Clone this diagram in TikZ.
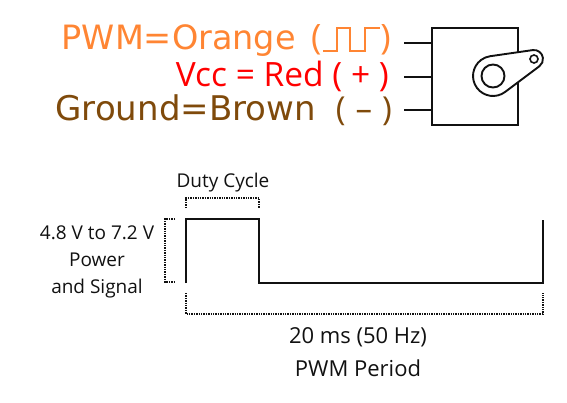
\documentclass[tikz,border=0pt]{standalone}
\usepackage{fontspec}
\setmainfont{Open Sans}
\newfontfamily\wirefont{DejaVu Sans}
\usetikzlibrary{positioning}
\definecolor{pwmorange}{HTML}{FF8533}
\definecolor{vccred}{HTML}{FF0000}
\definecolor{gndbrown}{HTML}{7F4A0B}
\definecolor{inkblack}{HTML}{111111}
\tikzset{
  wirelabel/.style={
    font=\wirefont\fontsize{33.5}{34}\selectfont,
    anchor=base east,
    inner sep=0pt,
  },
  vcclabel/.style={
    font=\fontsize{33.5}{34}\selectfont,
    anchor=base east,
    inner sep=0pt,
  },
  pin/.style={
    line width=1.9pt,
    draw=inkblack,
  },
  wave/.style={
    line width=1.9pt,
    draw=inkblack,
    line join=miter,
  },
  bracket/.style={
    line width=1.7pt,
    draw=inkblack,
    dash pattern=on 1.4pt off 1pt,
  },
  note/.style={
    font=\fontsize{19}{27}\selectfont,
    text=inkblack,
    align=center,
    inner sep=0pt,
  },
  bignote/.style={
    note,
    font=\fontsize{22}{33}\selectfont,
  },
}

\begin{document}
\begin{tikzpicture}[x=1pt,y=-1pt]
\useasboundingbox (0,0) rectangle (567,402);

% === wire colours ===

\node[wirelabel, text=pwmorange] (pwm) at (296,49) {PWM=Orange};
\node[wirelabel, text=pwmorange, font=\fontsize{35}{35}\selectfont, anchor=base west] (pwmopen) at (311,49) {(};
\node[wirelabel, text=pwmorange, font=\fontsize{35}{35}\selectfont] (pwmclose) at (391,49) {)};
\node[vcclabel, text=vccred] (vcc) at (389,86) {Vcc = Red ( + )};
\node[wirelabel, text=gndbrown, font=\wirefont\fontsize{34}{34}\selectfont] (gnd) at (316,120) {Ground=Brown};
\node[wirelabel, text=gndbrown, font=\fontsize{33}{34}\selectfont] (gndmark) at (392,120) {(\hspace{10pt}--\hspace{10pt})};

% pulse glyph
\draw[line width=1.8pt, draw=pwmorange] (323,51) -- (337,51) -- (337,28) -- (350,28) -- (350,51) -- (365,51) -- (365,28) -- (380,28);

% === servo ===

\coordinate (pwmpin) at (404,43);
\coordinate (vccpin) at (404,77);
\coordinate (gndpin) at (404,110);

\draw[pin] (432,28) rectangle (518,125);
\draw[pin] (pwmpin) -- (432,43);
\draw[pin] (vccpin) -- (432,77);
\draw[pin] (gndpin) -- (432,110);

% horn
\draw[pin, fill=white]
  (490.15,56.2) -- (532.7,50.1)
  arc[start angle=98.2, end angle=-53.2, radius=9pt] -- (505,92)
  arc[start angle=-53.2, end angle=-261.8, radius=20pt] -- cycle;
\node[circle, draw=inkblack, line width=1.9pt, minimum size=23pt, inner sep=0pt] (hub) at (493,76) {};
\node[circle, draw=inkblack, line width=1.6pt, minimum size=8pt, inner sep=0pt] (tip) at (534,59) {};

% === pulse ===

\coordinate (risefoot) at (186,283);
\coordinate (risetop) at (186,219);
\coordinate (falltop) at (259,219);
\coordinate (fallfoot) at (259,283);
\coordinate (endfoot) at (543,283);
\coordinate (endtop) at (543,220);

\draw[wave] (risefoot) -- (risetop) -- (falltop) -- (fallfoot) -- (endfoot) -- (endtop);

% === brackets ===

\draw[bracket] (186,208) -- (186,198) -- (259,198) -- (259,208);
\draw[bracket] (175,219) -- (165,219) -- (165,282) -- (175,282);
\draw[bracket] (186,293) -- (186,314) -- (543,314) -- (543,293);

% === notes ===

\node[note] (duty) at (223,183) {Duty Cycle};
\node[note] (volt) at (97,262) {4.8 V to 7.2 V\\Power\\and Signal};
\node[bignote] (period) at (358,352) {20 ms (50 Hz)\\PWM Period};

\end{tikzpicture}
\end{document}
